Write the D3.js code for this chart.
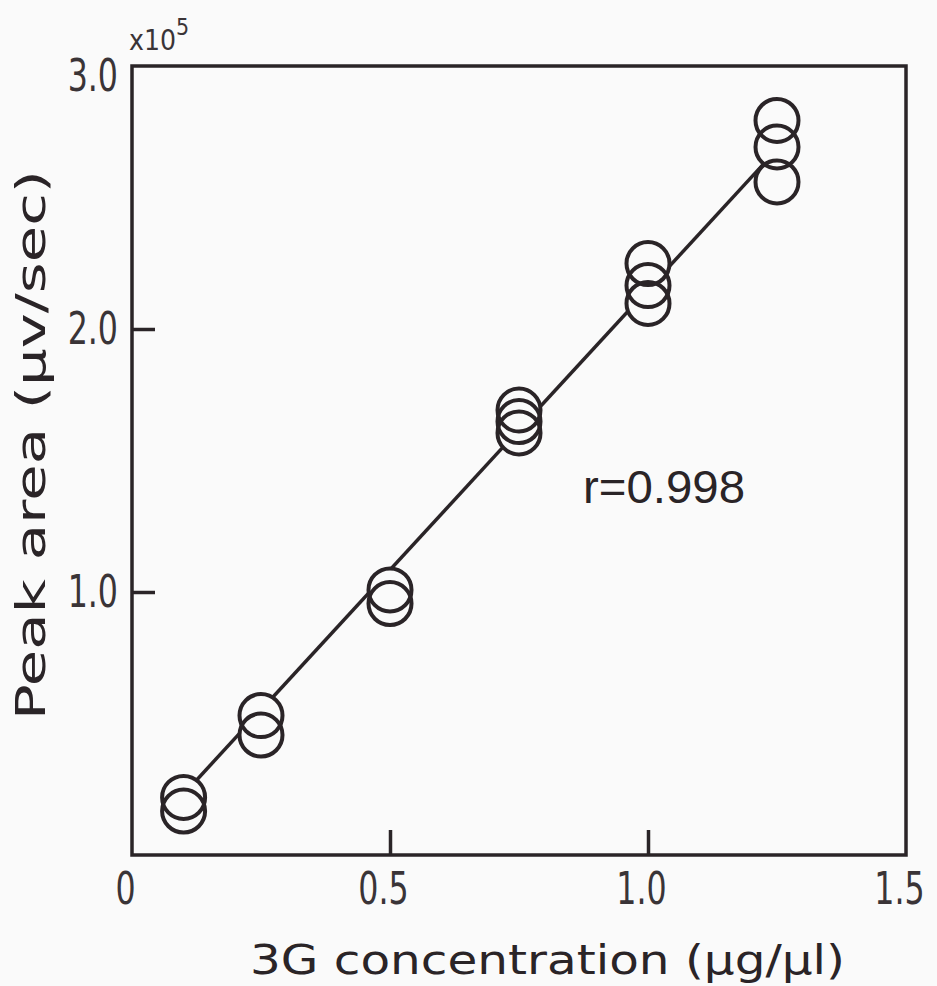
<!DOCTYPE html>
<html>
<head>
<meta charset="utf-8">
<script src="https://cdn.jsdelivr.net/npm/d3@7"></script>
<style>
  html, body { margin: 0; padding: 0; background: #fafafa; }
  svg { display: block; }
</style>
</head>
<body>
<svg id="chart" width="937" height="986"></svg>
<script>
// Calibration data for 3G: peak area (x10^5 µv/sec) against concentration (µg/µl)
const pointConcentration = [0.1, 0.1, 0.25, 0.25, 0.5, 0.5, 0.75, 0.75, 0.75, 1.0, 1.0, 1.0, 1.25, 1.25, 1.25];
const pointPeakArea      = [0.219, 0.167, 0.530, 0.456, 1.008, 0.956, 1.692, 1.648, 1.605, 2.249, 2.165, 2.097, 2.793, 2.692, 2.559];

// Fitted calibration line (peak area = slope * concentration + intercept)
const fitSlope = 2.132;
const fitIntercept = 0.018;
const fitRange = [0.1, 1.25];
const correlationLabel = "r=0.998";

// Axis ticks
const xTickLabels = [0, 0.5, 1.0, 1.5];
const xTickMarks = [0.5, 1.0];
const yTickLabels = [1.0, 2.0, 3.0];
const yTickMarks = [1.0, 2.0];

const ink = "#2a2427";
const svg = d3.select("#chart");

const plot = { left: 132, right: 906, top: 66, bottom: 855 };
const x = d3.scaleLinear().domain([0, 1.5]).range([plot.left, plot.right]);
const y = d3.scaleLinear().domain([0, 3]).range([plot.bottom, plot.top]);

const markerRadius = 21.5;

// Plot frame
svg.append("rect")
  .attr("x", plot.left).attr("y", plot.top)
  .attr("width", plot.right - plot.left).attr("height", plot.bottom - plot.top)
  .attr("fill", "none").attr("stroke", ink).attr("stroke-width", 3.5);

// Inward tick marks
const xMarks = svg.append("g")
  .attr("transform", `translate(0,${plot.bottom})`)
  .call(d3.axisBottom(x).tickValues(xTickMarks).tickSize(-25).tickFormat(""));
const yMarks = svg.append("g")
  .attr("transform", `translate(${plot.left},0)`)
  .call(d3.axisLeft(y).tickValues(yTickMarks).tickSize(-23).tickFormat(""));
[xMarks, yMarks].forEach(g => {
  g.select(".domain").remove();
  g.selectAll(".tick line").attr("stroke", ink).attr("stroke-width", 3.5);
});

// Tick labels in a narrow face, compressed a little further
const tickFont = "'Liberation Sans Narrow', 'DejaVu Sans Condensed', sans-serif";
const tickSqueeze = 0.8;
const fmt = d => d === 0 ? "0" : d3.format(".1f")(d);

const xLabels = svg.append("g")
  .attr("transform", `translate(-7,${plot.bottom})`)
  .call(d3.axisBottom(x).tickValues(xTickLabels).tickSize(0).tickPadding(18).tickFormat(fmt));
const yLabels = svg.append("g")
  .attr("transform", `translate(${plot.left},0)`)
  .call(d3.axisLeft(y).tickValues(yTickLabels).tickSize(0).tickPadding(14).tickFormat(fmt));
[xLabels, yLabels].forEach(g => {
  g.select(".domain").remove();
  g.selectAll(".tick text")
    .attr("fill", "#3a3437")
    .attr("transform", `scale(${tickSqueeze},1)`)
    .style("font-family", tickFont)
    .style("font-size", "44px");
});
yLabels.selectAll(".tick text").attr("x", -14 / tickSqueeze);
yLabels.selectAll(".tick").filter(d => d === 3).select("text").attr("dy", "0.55em");

// Exponent marker above the y axis
const expo = svg.append("text")
  .attr("x", 129).attr("y", 50)
  .attr("fill", "#3a3437")
  .style("font-family", tickFont)
  .style("font-size", "28px")
  .text("x10");
expo.append("tspan").attr("dy", -15).style("font-size", "23px").text("5");

// Fitted line, hidden where it passes through the markers
const defs = svg.append("defs");
const mask = defs.append("mask").attr("id", "lineMask");
mask.append("rect").attr("width", 937).attr("height", 986).attr("fill", "white");
mask.selectAll("circle")
  .data(d3.range(pointConcentration.length))
  .join("circle")
  .attr("cx", i => x(pointConcentration[i]))
  .attr("cy", i => y(pointPeakArea[i]))
  .attr("r", markerRadius)
  .attr("fill", "black");

const line = d3.line().x(d => x(d)).y(d => y(fitSlope * d + fitIntercept));
svg.append("path")
  .datum(fitRange)
  .attr("d", line)
  .attr("fill", "none")
  .attr("stroke", ink)
  .attr("stroke-width", 3.5)
  .attr("mask", "url(#lineMask)");

// Open circle markers
svg.append("g")
  .selectAll("circle")
  .data(d3.range(pointConcentration.length))
  .join("circle")
  .attr("cx", i => x(pointConcentration[i]))
  .attr("cy", i => y(pointPeakArea[i]))
  .attr("r", markerRadius)
  .attr("fill", "none")
  .attr("stroke", ink)
  .attr("stroke-width", 4);

// Correlation coefficient
svg.append("text")
  .attr("x", 583).attr("y", 503)
  .attr("fill", ink)
  .attr("textLength", 162)
  .attr("lengthAdjust", "spacingAndGlyphs")
  .style("font-family", "'Liberation Sans', Arial, sans-serif")
  .style("font-size", "46px")
  .text(correlationLabel);

// Axis titles
const titleFont = "'DejaVu Sans', 'Liberation Sans', sans-serif";
svg.append("text")
  .attr("x", 250).attr("y", 974)
  .attr("fill", ink)
  .attr("textLength", 595)
  .attr("lengthAdjust", "spacingAndGlyphs")
  .style("font-family", titleFont)
  .style("font-size", "40px")
  .text("3G concentration (μg/μl)");

svg.append("text")
  .attr("transform", "translate(45,720) rotate(-90)")
  .attr("fill", ink)
  .attr("textLength", 550)
  .attr("lengthAdjust", "spacingAndGlyphs")
  .style("font-family", titleFont)
  .style("font-size", "40px")
  .text("Peak area (μv/sec)");
</script>
</body>
</html>
